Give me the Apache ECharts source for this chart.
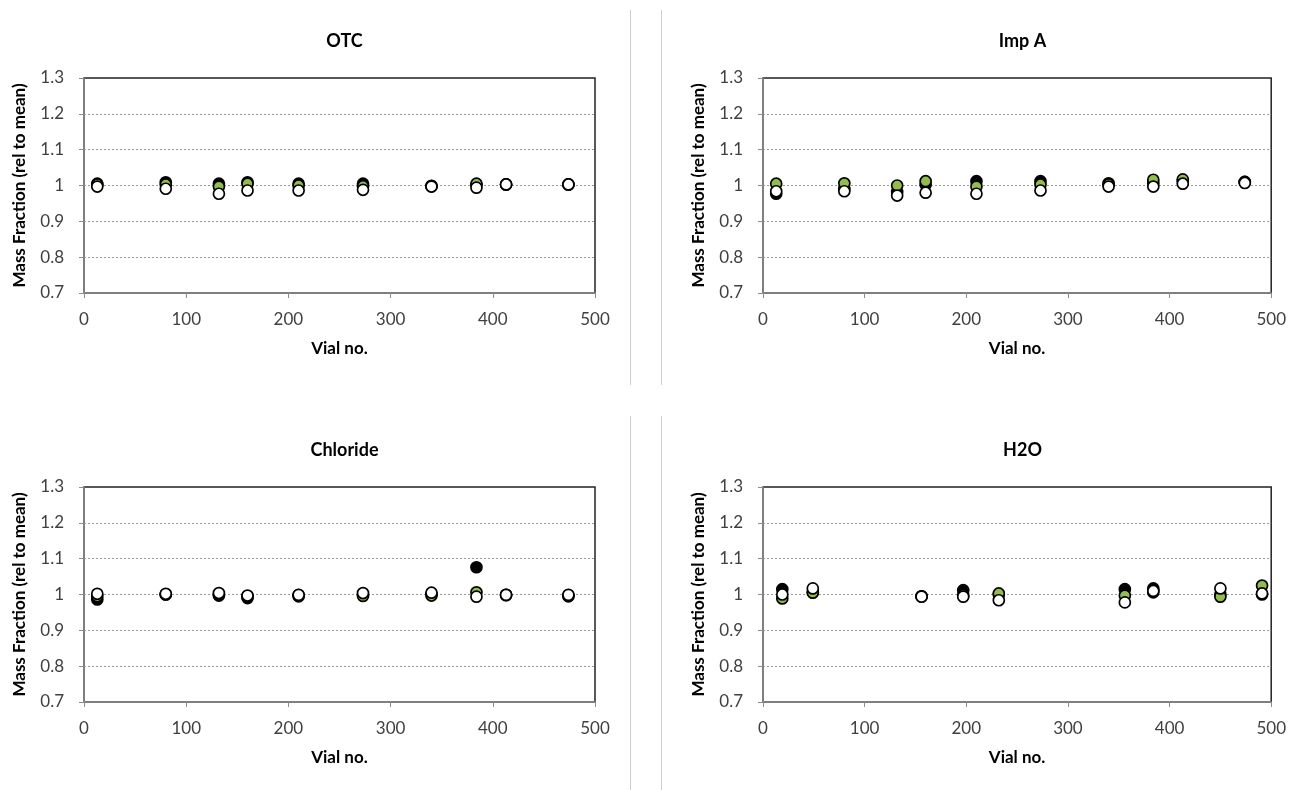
<!DOCTYPE html>
<html>
<head>
<meta charset="utf-8">
<script src="https://cdn.jsdelivr.net/npm/echarts@6/dist/echarts.min.js"></script>
<style>
  html, body { margin: 0; padding: 0; background: #fff; }
  #chart { width: 1289px; height: 790px; }
</style>
</head>
<body>
<div id="chart"></div>
<script>
// vial numbers
const vials = [13, 80, 132, 160, 210, 273, 340, 384, 413, 474]
const vialsH2O = [19, 49, 156, 197, 232, 356, 384, 450, 491]

const panelTitles = ['OTC', 'Imp A', 'Chloride', 'H2O']
const yTicks = [0.7, 0.8, 0.9, 1.0, 1.1, 1.2, 1.3]
const xTicks = [0, 100, 200, 300, 400, 500]

// mass fraction rel. to mean, three series per panel (black, green, white)
const otcBlack = [1.005, 1.009, 1.005, 1.009, 1.005, 1.005, 0.998, 1.002, 1.003, 1.003]
const otcGreen = [1.003, 1.003, 0.997, 1.005, 1.0, 0.998, 0.999, 1.005, 1.003, 1.003]
const otcWhite = [0.997, 0.991, 0.977, 0.986, 0.986, 0.988, 0.997, 0.994, 1.003, 1.003]

const impBlack = [0.977, 0.99, 0.982, 1.003, 1.012, 1.012, 1.006, 1.006, 1.012, 1.01]
const impGreen = [1.005, 1.006, 1.0, 1.012, 0.997, 1.003, 1.003, 1.016, 1.017, 1.01]
const impWhite = [0.984, 0.984, 0.972, 0.98, 0.977, 0.986, 0.997, 0.997, 1.005, 1.007]

const chlBlack = [0.986, 1.0, 0.997, 0.99, 0.995, 1.0, 1.001, 1.076, 0.998, 0.995]
const chlGreen = [0.995, 1.0, 1.0, 0.995, 0.998, 0.996, 0.997, 1.006, 0.999, 0.997]
const chlWhite = [1.002, 1.002, 1.004, 0.997, 0.999, 1.004, 1.005, 0.994, 0.999, 0.999]

const h2oBlack = [1.015, 1.006, 0.995, 1.012, 1.0, 1.015, 1.017, 1.0, 1.0]
const h2oGreen = [0.989, 1.005, 0.995, 0.998, 1.003, 0.997, 1.006, 0.994, 1.025]
const h2oWhite = [1.0, 1.017, 0.994, 0.994, 0.984, 0.978, 1.01, 1.017, 1.003]

const panels = [
  { x: vials, sets: [otcBlack, otcGreen, otcWhite] },
  { x: vials, sets: [impBlack, impGreen, impWhite] },
  { x: vials, sets: [chlBlack, chlGreen, chlWhite] },
  { x: vialsH2O, sets: [h2oBlack, h2oGreen, h2oWhite] }
]

const FONT = 'Lato, "Open Sans", sans-serif'
const fills = ['#000000', '#92BD4E', '#ffffff']

const grids = [
  { left: 84, top: 78, width: 511, height: 215 },
  { left: 763, top: 78, width: 509, height: 215 },
  { left: 84, top: 487, width: 511, height: 215 },
  { left: 763, top: 487, width: 509, height: 215 }
]

const chart = echarts.init(document.getElementById('chart'), null, { renderer: 'canvas' })

const option = {
  animation: false,
  backgroundColor: '#fff',
  title: grids.map((g, i) => ({
    text: panelTitles[i],
    left: g.left + g.width / 2,
    top: g.top - 51,
    textAlign: 'center',
    textStyle: { fontFamily: FONT, fontSize: 18, fontWeight: 'bold', color: '#000' }
  })),
  grid: grids.map(g => ({
    ...g,
    show: true,
    borderColor: '#222',
    borderWidth: 1.5,
    backgroundColor: '#fff'
  })),
  xAxis: grids.map((g, i) => ({
    gridIndex: i,
    type: 'value',
    min: xTicks[0],
    max: xTicks[xTicks.length - 1],
    interval: 100,
    name: 'Vial no.',
    nameLocation: 'middle',
    nameGap: 47,
    nameTextStyle: { fontFamily: FONT, fontSize: 17, fontWeight: 'bold', color: '#000' },
    axisLine: { show: true, lineStyle: { color: '#8c8c8c', width: 1.5 } },
    axisTick: { show: true, inside: false, length: 5, lineStyle: { color: '#8c8c8c' } },
    axisLabel: { fontFamily: FONT, fontSize: 17, color: '#404040', margin: 18 },
    splitLine: { show: false }
  })),
  yAxis: grids.map((g, i) => ({
    gridIndex: i,
    type: 'value',
    min: yTicks[0],
    max: yTicks[yTicks.length - 1],
    interval: 0.1,
    name: 'Mass Fraction (rel to mean)',
    nameLocation: 'middle',
    nameGap: 56,
    nameTextStyle: { fontFamily: FONT, fontSize: 17, fontWeight: 'bold', color: '#000' },
    axisLine: { show: true, lineStyle: { color: '#8c8c8c', width: 1.5 } },
    axisTick: { show: true, inside: false, length: 5, lineStyle: { color: '#8c8c8c' } },
    axisLabel: {
      fontFamily: FONT, fontSize: 17, color: '#404040', margin: 20,
      formatter: v => (Math.abs(v - 1) < 1e-9 ? '1' : v.toFixed(1))
    },
    splitLine: {
      show: true,
      showMinLine: false,
      showMaxLine: false,
      lineStyle: { color: '#9a9a9a', type: [2, 2], width: 1 }
    }
  })),
  series: panels.flatMap((p, i) =>
    p.sets.map((vals, k) => ({
      type: 'scatter',
      xAxisIndex: i,
      yAxisIndex: i,
      symbol: 'circle',
      symbolSize: 11,
      itemStyle: { color: fills[k], borderColor: '#000', borderWidth: 1.7, opacity: 1 },
      data: vals.map((v, j) => [p.x[j], v])
    }))
  ),
  graphic: [
    { type: 'line', shape: { x1: 630.5, y1: 10, x2: 630.5, y2: 385 }, style: { stroke: '#cfcfcf', lineWidth: 1 } },
    { type: 'line', shape: { x1: 661.5, y1: 10, x2: 661.5, y2: 385 }, style: { stroke: '#cfcfcf', lineWidth: 1 } },
    { type: 'line', shape: { x1: 630.5, y1: 416, x2: 630.5, y2: 790 }, style: { stroke: '#cfcfcf', lineWidth: 1 } },
    { type: 'line', shape: { x1: 661.5, y1: 416, x2: 661.5, y2: 790 }, style: { stroke: '#cfcfcf', lineWidth: 1 } }
  ]
}

chart.setOption(option)
</script>
</body>
</html>
